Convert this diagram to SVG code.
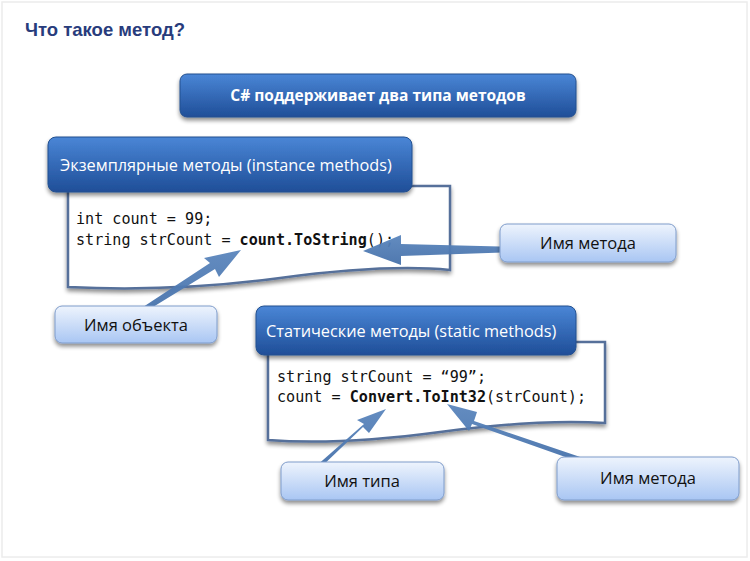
<svg xmlns="http://www.w3.org/2000/svg" width="750" height="561" viewBox="0 0 750 561">
<defs>
<linearGradient id="gDark" x1="0" y1="0" x2="0" y2="1">
<stop offset="0" stop-color="#4a86d6"/>
<stop offset="1" stop-color="#1f4e98"/>
</linearGradient>
<linearGradient id="gLight" x1="0" y1="0" x2="0" y2="1">
<stop offset="0" stop-color="#eef4fd"/>
<stop offset="1" stop-color="#a9c6f3"/>
</linearGradient>
<linearGradient id="gArrow" x1="0" y1="0" x2="0" y2="1">
<stop offset="0" stop-color="#5b86bd"/>
<stop offset="1" stop-color="#4671aa"/>
</linearGradient>
<filter id="sh" x="-10%" y="-20%" width="120%" height="150%">
<feGaussianBlur in="SourceAlpha" stdDeviation="2"/>
<feOffset dx="0" dy="2.5" result="b"/>
<feComponentTransfer><feFuncA type="linear" slope="0.45"/></feComponentTransfer>
<feMerge><feMergeNode/><feMergeNode in="SourceGraphic"/></feMerge>
</filter>
</defs>
<style>
.title{font-family:"Liberation Sans",Arial,sans-serif;font-weight:bold;font-size:18.5px;fill:#283c7c}
.dark{fill:url(#gDark);stroke:#23508f;stroke-width:1}
.light{fill:url(#gLight);stroke:#7f9ccb;stroke-width:1}
.hdr{font-family:"Open Sans","Noto Sans",sans-serif;font-size:16.3px;fill:#ffffff}
.hdrb{font-family:"Open Sans","Noto Sans",sans-serif;font-size:15.5px;font-weight:bold;fill:#ffffff}
.lbl{font-family:"Open Sans","Noto Sans",sans-serif;font-size:16.5px;fill:#111111}
.doc{fill:#ffffff;stroke:#56709a;stroke-width:2.5}
.code{font-family:"DejaVu Sans Mono","Liberation Mono",monospace;font-size:15.1px;fill:#111111}
.b{font-weight:bold}
.arr{fill:url(#gArrow);opacity:0.95}
</style>
<rect x="2" y="2" width="745" height="555" fill="#ffffff" stroke="#ececec" stroke-width="1.5"/>
<text class="title" x="25" y="36">Что такое метод?</text>

<g id="doc1">
<path class="doc" filter="url(#sh)" d="M68,186 L450,186 L450,270 C400,265 340,270 280,278 C220,286 150,291 68,287 Z"/>
<text class="code" x="76" y="224">int count = 99;</text>
<text class="code" x="76" y="245">string strCount = <tspan class="b">count.ToString</tspan>();</text>
</g>

<g id="doc2">
<path class="doc" filter="url(#sh)" d="M268,342 L605,342 L605,423 C560,420 500,424 440,432 C380,440 320,444 268,440 Z"/>
<text class="code" x="277" y="382">string strCount = “99”;</text>
<text class="code" x="277" y="402">count = <tspan class="b">Convert.ToInt32</tspan>(strCount);</text>
</g>

<g id="top">
<rect class="dark" filter="url(#sh)" x="180" y="74" width="396" height="43" rx="7"/>
<text class="hdrb" x="378" y="101" text-anchor="middle">C# поддерживает два типа методов</text>
</g>

<g id="instance">
<rect class="dark" filter="url(#sh)" x="48" y="137" width="364" height="55" rx="8"/>
<text class="hdr" x="60" y="171">Экземплярные методы (instance methods)</text>
</g>

<g id="static">
<rect class="dark" filter="url(#sh)" x="256" y="306" width="320" height="49" rx="8"/>
<text class="hdr" x="266" y="337">Статические методы (static methods)</text>
</g>

<g id="connectors">
<polygon class="arr" points="520,247 401,244 401,235 363,251 401,265 401,256 520,252"/>
<polygon class="arr" points="140,315 215,269 219,277 241,250 204,258 210,263 137,311"/>
<polygon class="arr" points="318,470 363,427 369,433 386,409 357,420 364,424 315,467"/>
<polygon class="arr" points="592,461 474,421 477,412 447,404 469,431 472,424 588,465"/>
</g>

<g id="objname">
<rect class="light" filter="url(#sh)" x="55" y="306" width="162" height="37" rx="7"/>
<text class="lbl" x="136" y="331" text-anchor="middle">Имя объекта</text>
</g>

<g id="method1">
<rect class="light" filter="url(#sh)" x="500" y="224" width="176" height="38" rx="7"/>
<text class="lbl" x="588" y="249" text-anchor="middle">Имя метода</text>
</g>

<g id="typename">
<rect class="light" filter="url(#sh)" x="281" y="462" width="163" height="38" rx="7"/>
<text class="lbl" x="362" y="487" text-anchor="middle">Имя типа</text>
</g>

<g id="method2">
<rect class="light" filter="url(#sh)" x="557" y="457" width="182" height="43" rx="7"/>
<text class="lbl" x="648" y="484" text-anchor="middle">Имя метода</text>
</g>
</svg>
